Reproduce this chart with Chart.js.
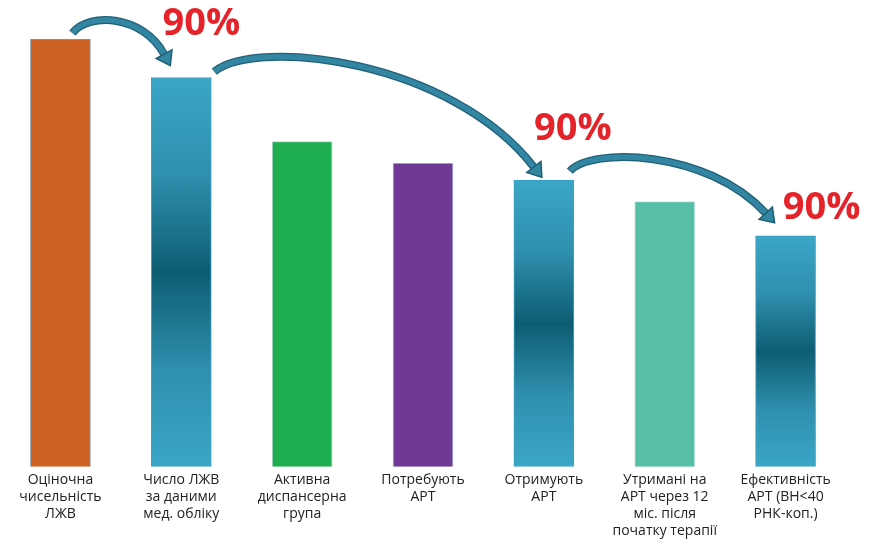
<!DOCTYPE html>
<html>
<head>
<meta charset="utf-8">
<script src="https://cdn.jsdelivr.net/npm/chart.js@4.4.0/dist/chart.umd.min.js"></script>
<style>
  html, body { margin: 0; padding: 0; background: #ffffff; }
  #wrap { width: 869px; height: 544px; position: relative; }
</style>
</head>
<body>
<div id="wrap"><canvas id="c" width="869" height="544"></canvas></div>
<script>
// ---- data ----
const categories = [
  ["Оціночна", "чисельність", "ЛЖВ"],
  ["Число ЛЖВ", "за даними", "мед. обліку"],
  ["Активна", "диспансерна", "група"],
  ["Потребують", "АРТ"],
  ["Отримують", "АРТ"],
  ["Утримані на", "АРТ через 12", "міс. після", "початку терапії"],
  ["Ефективність", "АРТ (ВН<40", "РНК-коп.)"]
];
const values = [100, 91, 76, 71, 67, 62, 54];
const stepLabels = ["90%", "90%", "90%"];
const stepFrom = [0, 1, 4];
const stepTo = [1, 4, 6];

// ---- styles ----
const solidColors = ["#cd6023", null, "#1fae4f", "#6f3895", null, "#56bfa5", null];
const borderColors = ["#8b98a6", "#3aa3c4", "#a8d8d0", "#a9c4e0", "#3aa3c4", "#b8e4dc", "#3aa3c4"];

function barFill(ctx) {
  const i = ctx.dataIndex;
  if (solidColors[i]) return solidColors[i];
  const chart = ctx.chart;
  const ys = chart.scales.y;
  if (!chart.chartArea || !ys) return "#3aa3c4";
  const top = ys.getPixelForValue(values[i]);
  const base = ys.getPixelForValue(0);
  const g = chart.ctx.createLinearGradient(0, top, 0, base);
  g.addColorStop(0, "#3ba6c7");
  g.addColorStop(0.25, "#2f8fae");
  g.addColorStop(0.5, "#0d5d72");
  g.addColorStop(0.75, "#2f8fae");
  g.addColorStop(1, "#3ba6c7");
  return g;
}

const arrowShapes = [
  { s: [12, -6], t: [-11, -12], c1: [0.17, -21], c2: [0.72, -18], lab: [20, -53] },
  { s: [33, -6], t: [-2, -3], c1: [0.13, -34], c2: [0.72, -12], lab: [29, -51] },
  { s: [26, -9], t: [-11, -13], c1: [0.10, -24], c2: [0.67, -22], lab: [36, -28] }
];

const arrowPlugin = {
  id: "arrows",
  afterDatasetsDraw(chart) {
    const ctx = chart.ctx;
    const bars = chart.getDatasetMeta(0).data;
    stepLabels.forEach((txt, k) => {
      const a = bars[stepFrom[k]], b = bars[stepTo[k]];
      const sh = arrowShapes[k];
      const S = [a.x + sh.s[0], a.y + sh.s[1]];
      const T = [b.x + sh.t[0], b.y + sh.t[1]];
      const D = T[0] - S[0];
      const C1 = [S[0] + sh.c1[0] * D, S[1] + sh.c1[1]];
      const C2 = [S[0] + sh.c2[0] * D, S[1] + sh.c2[1]];
      let ux = T[0] - C2[0], uy = T[1] - C2[1];
      const len = Math.hypot(ux, uy); ux /= len; uy /= len;
      const headLen = 13, headW = 9;
      const H = [T[0] - ux * headLen, T[1] - uy * headLen];
      ctx.save();
      ctx.lineCap = "butt";
      ctx.beginPath();
      ctx.moveTo(S[0], S[1]);
      ctx.bezierCurveTo(C1[0], C1[1], C2[0], C2[1], H[0], H[1]);
      ctx.strokeStyle = "#1f5f76";
      ctx.lineWidth = 8;
      ctx.stroke();
      ctx.beginPath();
      ctx.moveTo(S[0], S[1]);
      ctx.bezierCurveTo(C1[0], C1[1], C2[0], C2[1], H[0], H[1]);
      ctx.strokeStyle = "#3286a2";
      ctx.lineWidth = 5.5;
      ctx.stroke();
      const px = -uy, py = ux;
      ctx.beginPath();
      ctx.moveTo(T[0], T[1]);
      ctx.lineTo(H[0] + px * headW, H[1] + py * headW);
      ctx.lineTo(H[0] - px * headW, H[1] - py * headW);
      ctx.closePath();
      ctx.fillStyle = "#3286a2";
      ctx.fill();
      ctx.strokeStyle = "#1f5f76";
      ctx.lineWidth = 1.5;
      ctx.stroke();
      ctx.font = "bold 38px 'Open Sans', 'Liberation Sans', sans-serif";
      ctx.fillStyle = "#e5232a";
      ctx.textAlign = "center";
      ctx.textBaseline = "middle";
      ctx.fillText(txt, b.x + sh.lab[0], b.y + sh.lab[1]);
      ctx.restore();
    });
  }
};

new Chart(document.getElementById("c"), {
  type: "bar",
  data: {
    labels: categories,
    datasets: [{
      data: values,
      backgroundColor: barFill,
      borderColor: borderColors,
      borderWidth: 1,
      borderSkipped: "bottom",
      barThickness: 60
    }]
  },
  options: {
    responsive: false,
    animation: false,
    devicePixelRatio: 1,
    layout: { padding: { top: 39, left: 0, right: 23, bottom: 0 } },
    plugins: { legend: { display: false }, tooltip: { enabled: false } },
    scales: {
      x: {
        grid: { display: false, drawTicks: false },
        border: { display: false },
        ticks: {
          color: "#222222",
          padding: 5,
          maxRotation: 0,
          autoSkip: false,
          font: { family: "'Open Sans', 'Liberation Sans', sans-serif", size: 14, lineHeight: 1.2 }
        }
      },
      y: { display: false, min: 0, max: 100 }
    }
  },
  plugins: [arrowPlugin]
});
</script>
</body>
</html>
